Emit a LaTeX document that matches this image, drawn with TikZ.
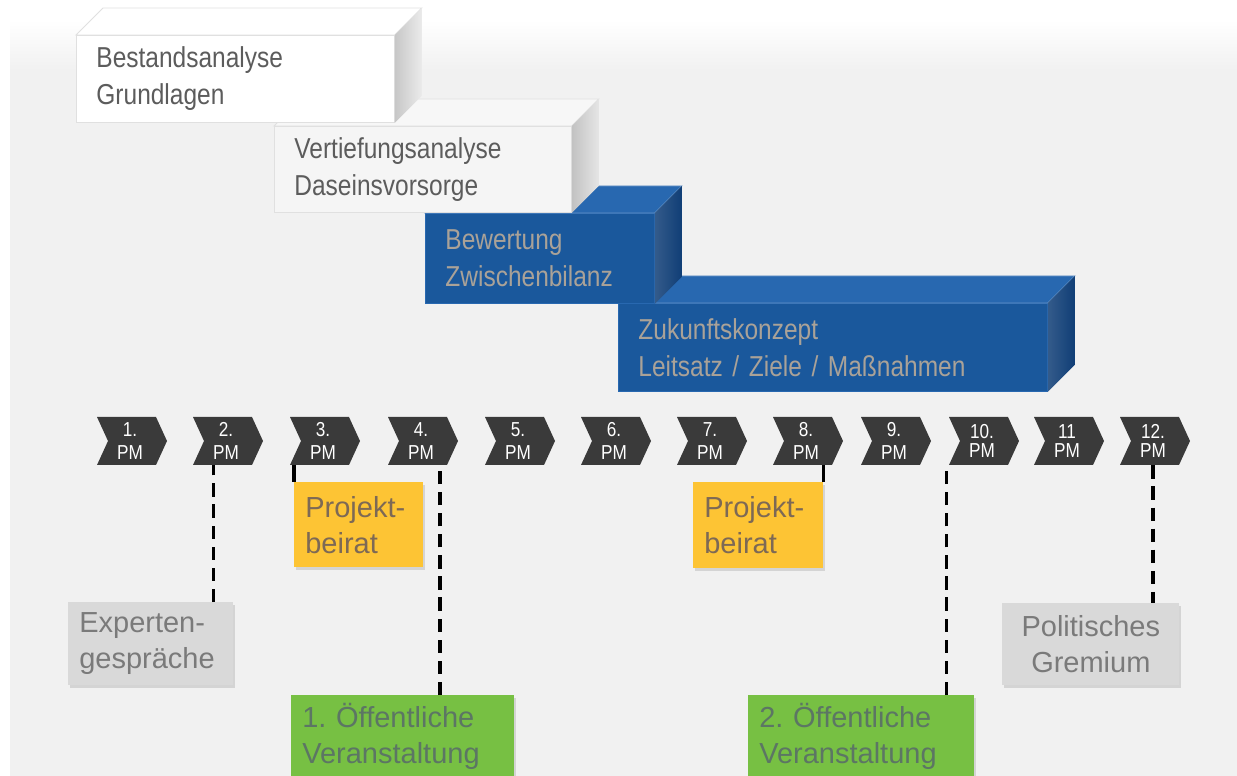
\documentclass[tikz,border=0pt]{standalone}
\usepackage{fontspec}
\setmainfont{Liberation Sans}
\newfontfamily\narrowsans[FakeStretch=0.85]{Liberation Sans}
\usetikzlibrary{shadows}
\frenchspacing
\definecolor{bggray}{RGB}{241,241,241}
\definecolor{pmgray}{RGB}{58,58,58}
\definecolor{stagetext}{RGB}{92,92,92}
\definecolor{bluefront}{RGB}{26,88,156}
\definecolor{bluetop}{RGB}{40,104,176}
\definecolor{blueside}{RGB}{16,62,118}
\definecolor{bluetext}{RGB}{170,162,152}
\definecolor{beiratfill}{RGB}{253,196,52}
\definecolor{beirattext}{RGB}{125,105,85}
\definecolor{oefffill}{RGB}{119,192,67}
\definecolor{oefftext}{RGB}{92,118,100}
\definecolor{notegray}{RGB}{217,217,217}
\definecolor{notetext}{RGB}{122,122,122}

\begin{document}
\begin{tikzpicture}[x=0.02cm,y=-0.02cm,
        stage/.style={anchor=north west,inner xsep=0.4cm,inner ysep=0pt,align=left,
            line width=0.5pt,font=\narrowsans\fontsize{16.4}{21}\selectfont},
        recede/.style={shift={(27,-27)}},
        pmtext/.style={text=white,align=center,inner sep=0pt,minimum height=0.96cm},
        note/.style={anchor=north west,inner xsep=0.22cm,inner ysep=0pt,align=left,
            font=\fontsize{16.5}{20.5}\selectfont,
            drop shadow={shadow xshift=1pt,shadow yshift=-1.5pt,opacity=0.25}},
        dashline/.style={line width=2pt,dash pattern=on 7.5pt off 4.5pt},
        tick/.style={line width=2pt}
    ]
    \useasboundingbox (0,0) rectangle (1237,776);
    \fill[white] (0,0) rectangle (1237,776);
    \shade[top color=white,bottom color=bggray] (10,20) rectangle (1237,70);
    \fill[bggray] (10,70) rectangle (1237,776);

    % stages, back to front
    \node[stage,text width=7.78cm,minimum height=1.76cm,fill=bluefront,draw=bluetop,text=bluetext]
        (zukunft) at (618,303) {Zukunftskonzept\\Leitsatz / Ziele / Maßnahmen};
    \fill[bluetop,draw=bluetop!70!white,line width=0.5pt] (zukunft.north west) -- ([recede]zukunft.north west)
        -- ([recede]zukunft.north east) -- (zukunft.north east) -- cycle;
    \shade[left color=blueside!85!white,right color=blueside] (zukunft.north east) -- ([recede]zukunft.north east)
        -- ([recede]zukunft.south east) -- (zukunft.south east) -- cycle;

    \node[stage,text width=3.78cm,minimum height=1.8cm,fill=bluefront,draw=bluetop,text=bluetext]
        (bewertung) at (425,213) {Bewertung\\Zwischenbilanz};
    \fill[bluetop,draw=bluetop!70!white,line width=0.5pt] (bewertung.north west) -- ([recede]bewertung.north west)
        -- ([recede]bewertung.north east) -- (bewertung.north east) -- cycle;
    \shade[left color=blueside!85!white,right color=blueside] (bewertung.north east) -- ([recede]bewertung.north east)
        -- ([recede]bewertung.south east) -- (bewertung.south east) -- cycle;

    \node[stage,text width=5.14cm,minimum height=1.72cm,fill=black!4,draw=black!12,text=stagetext]
        (vertiefung) at (274,126) {Vertiefungsanalyse\\Daseinsvorsorge};
    \fill[black!3,draw=black!12,line width=0.5pt] (vertiefung.north west) -- ([recede]vertiefung.north west)
        -- ([recede]vertiefung.north east) -- (vertiefung.north east) -- cycle;
    \shade[left color=black!24,right color=black!10] (vertiefung.north east) -- ([recede]vertiefung.north east)
        -- ([recede]vertiefung.south east) -- (vertiefung.south east) -- cycle;

    \node[stage,text width=5.56cm,minimum height=1.74cm,fill=white,draw=black!12,text=stagetext]
        (bestand) at (76,35) {Bestandsanalyse\\Grundlagen};
    \fill[white,draw=black!12,line width=0.5pt] (bestand.north west) -- ([recede]bestand.north west)
        -- ([recede]bestand.north east) -- (bestand.north east) -- cycle;
    \shade[left color=black!22,right color=black!8] (bestand.north east) -- ([recede]bestand.north east)
        -- ([recede]bestand.south east) -- (bestand.south east) -- cycle;

    % project meetings
    \foreach \x/\num/\gap [count=\i] in {130/1./13.5,226/2./13.5,323/3./13.5,421/4./13.5,518/5./13.5,614/6./13.5,
            710/7./13.5,806/8./13.5,894/9./13.5,982/10./10.5,1067/11/10.5,1153/12./10.5} {
        \fill[pmgray] (\x-33,417) -- (\x+26,417) -- (\x+37,441) -- (\x+26,465)
            -- (\x-33,465) -- (\x-22,441) -- cycle;
        \node[pmtext,font=\narrowsans\fontsize{11.5}{\gap}\selectfont] (pm\i) at (\x,441) {\num\\PM};
    }

    % meetings below
    \node[note,text width=2.86cm,minimum height=1.66cm,fill=notegray,text=notetext]
        (expert) at (68,602) {Experten-\\gespräche};
    \node[note,text width=2.14cm,minimum height=1.7cm,fill=beiratfill,text=beirattext]
        (beirat1) at (294,482) {Projekt-\\beirat};
    \node[note,text width=2.16cm,minimum height=1.72cm,fill=beiratfill,text=beirattext]
        (beirat2) at (693,482) {Projekt-\\beirat};
    \node[note,text width=4.02cm,minimum height=1.66cm,fill=oefffill,text=oefftext]
        (oeff1) at (291,695) {1. Öffentliche\\Veranstaltung};
    \node[note,text width=4.08cm,minimum height=1.66cm,fill=oefffill,text=oefftext]
        (oeff2) at (748,695) {2. Öffentliche\\Veranstaltung};
    \node[note,align=center,text width=3.1cm,minimum height=1.64cm,fill=notegray,text=notetext]
        (polit) at (1002,603) {Politisches\\Gremium};

    \draw[dashline] ([xshift=-0.4cm]expert.north east) -- ([xshift=-0.4cm]expert.north east |- pm2.south);
    \draw[tick] (beirat1.north west) -- (beirat1.north west |- pm3.south);
    \draw[dashline] ([xshift=2.98cm]oeff1.north west) -- ([xshift=2.98cm]oeff1.north west |- pm4.south);
    \draw[tick] (beirat2.north east) -- (beirat2.north east |- pm8.south);
    \draw[dashline] ([xshift=-0.56cm]oeff2.north east) -- ([xshift=-0.56cm]oeff2.north east |- pm10.south);
    \draw[dashline] (pm12.south) -- (pm12.south |- polit.north);
\end{tikzpicture}
\end{document}
